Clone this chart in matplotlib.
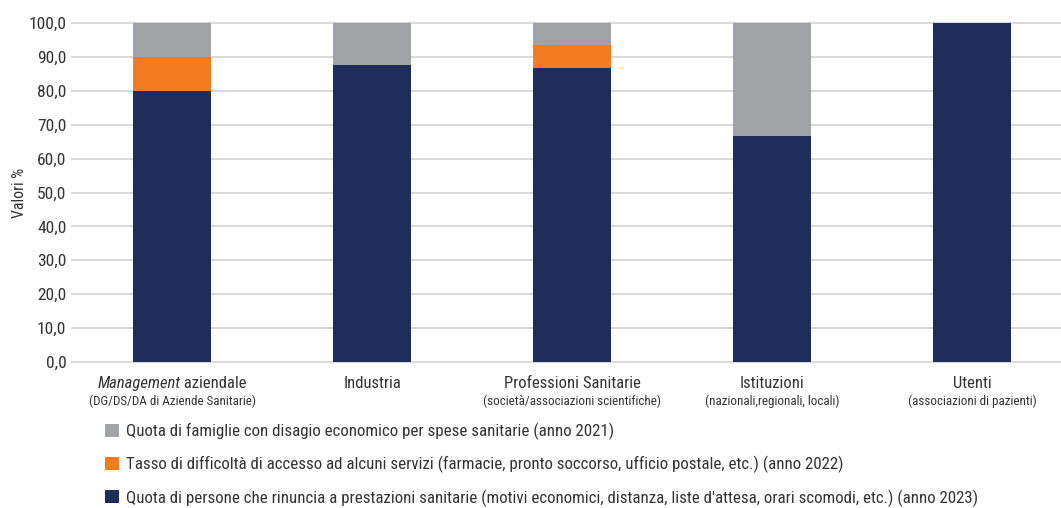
import matplotlib
matplotlib.use('Agg')
import matplotlib.pyplot as plt
from matplotlib import font_manager
from matplotlib.patches import Patch
from matplotlib.transforms import offset_copy
import numpy as np

# pick a narrow font if one is installed
installed = {f.name for f in font_manager.fontManager.ttflist}
family = 'DejaVu Sans'
for name in ['Liberation Sans Narrow', 'Roboto Condensed', 'Open Sans Condensed', 'Liberation Sans', 'Roboto']:
    if name in installed:
        family = name
        break
plt.rcParams['font.family'] = [family, 'DejaVu Sans']

# categories and sub-labels
categories = ['Management aziendale', 'Industria', 'Professioni Sanitarie', 'Istituzioni', 'Utenti']
sub_labels = ['(DG/DS/DA di Aziende Sanitarie)', '', '(società/associazioni scientifiche)',
              '(nazionali,regionali, locali)', '(associazioni di pazienti)']

# series values (%)
rinuncia_2023 = [80.0, 87.5, 86.7, 66.7, 100.0]
accesso_2022 = [10.0, 0.0, 6.7, 0.0, 0.0]
disagio_2021 = [10.0, 12.5, 6.6, 33.3, 0.0]

series_labels = [
    "Quota di persone che rinuncia a prestazioni sanitarie (motivi economici, distanza, liste d'attesa, orari scomodi, etc.) (anno 2023)",
    "Tasso di difficoltà di accesso ad alcuni servizi (farmacie, pronto soccorso, ufficio postale, etc.) (anno 2022)",
    "Quota di famiglie con disagio economico per spese sanitarie (anno 2021)",
]
colors = ['#1e2d59', '#f47b20', '#a1a2a5']
text_col = '#333333'

fig = plt.figure(figsize=(10.61, 5.08), dpi=100)
ax = fig.add_axes([0.0679, 0.2874, 0.9425, 0.6673])
fig.canvas.draw()
r = fig.canvas.get_renderer()

# scale font sizes so the longest legend entry is as wide as in the reference (~845 px)
probe = fig.text(0, 0, series_labels[0], fontsize=10)
scale = 845 / probe.get_window_extent(r).width
probe.remove()
fs_main = min(12, 10 * scale * 1.02)
fs_small = fs_main * 0.78
fs_legend = 10 * scale

x = np.arange(len(categories))
bottom = np.zeros(len(categories))
for vals, col in zip([rinuncia_2023, accesso_2022, disagio_2021], colors):
    ax.bar(x, vals, width=0.39, bottom=bottom, color=col, zorder=3)
    bottom += np.array(vals)

ax.set_xlim(-0.5, 4.5)
ax.set_ylim(0, 100)
yt = np.arange(0, 101, 10)
ax.set_yticks(yt)
ax.set_yticklabels([f'{v:.1f}'.replace('.', ',') for v in yt], fontsize=fs_main * 1.05, color=text_col)
ax.yaxis.grid(True, color='#d9d9d9', linewidth=1.5, zorder=0)
for gl in ax.yaxis.get_gridlines():
    gl.set_clip_on(False)
ax.set_axisbelow(True)
for s in ax.spines.values():
    s.set_visible(False)
ax.tick_params(axis='y', length=0, pad=4)
ax.set_xticks([])
ax.set_ylabel('Valori %', fontsize=fs_main * 0.95, color=text_col)
ax.yaxis.set_label_coords(-0.045, 0.5)

# category labels below axis
trans = ax.get_xaxis_transform()
for i, (cat, sub) in enumerate(zip(categories, sub_labels)):
    if cat.startswith('Management'):
        t1 = ax.text(i, -0.04, 'Management', style='italic', fontsize=fs_main, color=text_col,
                     transform=trans, ha='left', va='top')
        t2 = ax.text(i, -0.04, ' aziendale', fontsize=fs_main, color=text_col,
                     transform=trans, ha='left', va='top')
        w1 = t1.get_window_extent(r).width
        w2 = t2.get_window_extent(r).width
        tot = w1 + w2
        t1.set_transform(offset_copy(trans, fig=fig, x=-tot / 2, units='dots'))
        t2.set_transform(offset_copy(trans, fig=fig, x=-tot / 2 + w1, units='dots'))
    else:
        ax.text(i, -0.04, cat, fontsize=fs_main, color=text_col, transform=trans, ha='center', va='top')
    if sub:
        ax.text(i, -0.095, sub, fontsize=fs_small, color=text_col, transform=trans, ha='center', va='top')

# legend (grey first, navy last)
handles = [Patch(facecolor=c) for c in colors[::-1]]
leg = fig.legend(handles, series_labels[::-1], loc='upper left', bbox_to_anchor=(0.099, 0.168),
                 frameon=False, fontsize=fs_legend, handlelength=0.8, handleheight=0.8,
                 handletextpad=0.45, labelspacing=0.95, borderaxespad=0, borderpad=0)
for t in leg.get_texts():
    t.set_color(text_col)

fig.savefig('out.png', dpi=100)
